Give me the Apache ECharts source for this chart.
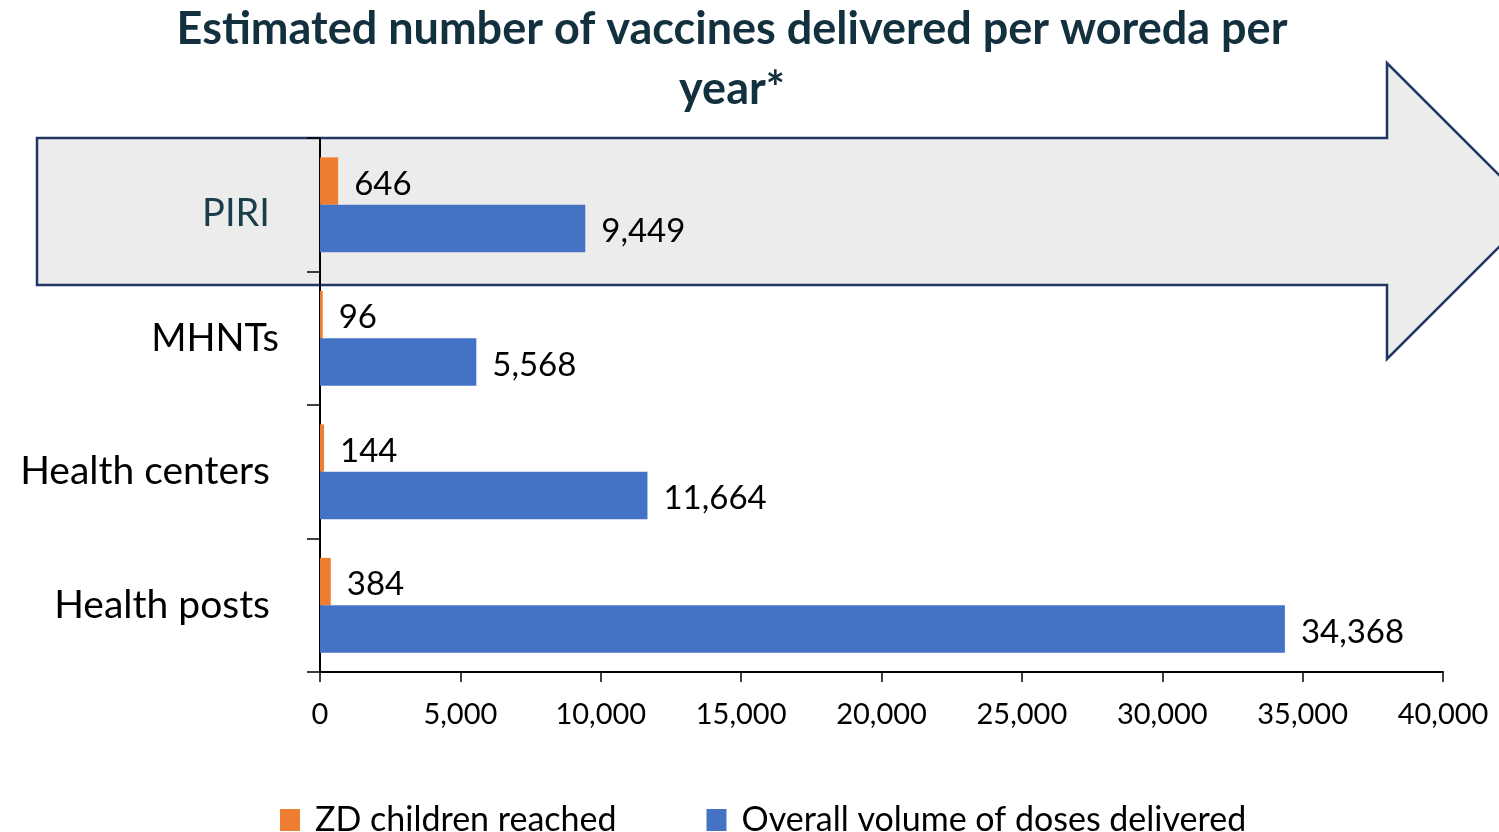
<!DOCTYPE html>
<html>
<head>
<meta charset="utf-8">
<script src="https://cdn.jsdelivr.net/npm/echarts@6/dist/echarts.min.js"></script>
<style>
  html, body { margin: 0; padding: 0; background: #fff; }
  #chart { width: 1499px; height: 832px; }
</style>
</head>
<body>
<div id="chart"></div>
<script>
// categories top to bottom
var categories = ['PIRI', 'MHNTs', 'Health centers', 'Health posts'];
var zdChildren = [646, 96, 144, 384];
var overallDoses = [9449, 5568, 11664, 34368];
var seriesNames = ['ZD children reached', 'Overall volume of doses delivered'];

var font = 'Lato';
var chart = echarts.init(document.getElementById('chart'));

function fmt(v) { return v.toLocaleString('en-US'); }

var valueLabel = {
    show: true,
    position: 'right',
    distance: 16,
    offset: [0, 3],
    fontFamily: font,
    fontSize: 33,
    color: '#000',
    formatter: function (p) { return fmt(p.value); }
};

var option = {
    backgroundColor: '#ffffff',
    title: {
        text: 'Estimated number of vaccines delivered per woreda per\nyear*',
        left: 727,
        textAlign: 'center',
        top: -6,
        textStyle: {
            fontFamily: font,
            fontWeight: 'bold',
            fontSize: 45,
            lineHeight: 60,
            color: '#12303d'
        }
    },
    // big arrow behind the PIRI row
    graphic: [
        {
            type: 'polygon',
            z: -10,
            shape: {
                points: [[37, 138], [1387, 138], [1387, 63], [1535, 211],
                         [1387, 359], [1387, 285], [37, 285]]
            },
            style: { fill: '#ececec', stroke: '#1f3761', lineWidth: 2.5 }
        }
    ],
    legend: {
        top: 798,
        left: 275,
        itemWidth: 20,
        itemHeight: 22,
        itemGap: 90,
        icon: 'rect',
        textStyle: { fontFamily: font, fontSize: 34, color: '#000', padding: [0, 0, 0, 10] },
        data: seriesNames
    },
    grid: {
        left: 320,
        right: 56,
        top: 138,
        bottom: 160
    },
    xAxis: {
        type: 'value',
        min: 0,
        max: 40000,
        interval: 5000,
        splitLine: { show: false },
        axisLine: { show: true, lineStyle: { color: '#000', width: 2 } },
        axisTick: { show: true, length: 10, lineStyle: { color: '#000', width: 1.5 } },
        axisLabel: {
            fontFamily: font,
            fontSize: 29,
            color: '#000',
            margin: 28,
            formatter: fmt
        }
    },
    yAxis: {
        type: 'category',
        inverse: true,
        data: categories,
        axisLine: { show: true, lineStyle: { color: '#000', width: 2 } },
        axisTick: { show: true, length: 13, lineStyle: { color: '#000', width: 1.5 } },
        axisLabel: {
            margin: 41,
            formatter: function (v) {
                if (v === 'PIRI') return '{p|' + v + '}';
                if (v === 'MHNTs') return '{m|' + v + '}';
                return '{n|' + v + '}';
            },
            rich: {
                p: { fontFamily: font, fontSize: 38, color: '#1a3d4a', padding: [18, 9, 0, 0] },
                m: { fontFamily: font, fontSize: 38, color: '#000', padding: [0, 0, 0, 0] },
                n: { fontFamily: font, fontSize: 39, color: '#000', padding: [0, 9, 0, 0] }
            }
        }
    },
    series: [
        {
            name: seriesNames[0],
            type: 'bar',
            data: zdChildren,
            barGap: '0%',
            barCategoryGap: '29%',
            itemStyle: { color: '#ed7d31' },
            label: valueLabel
        },
        {
            name: seriesNames[1],
            type: 'bar',
            data: overallDoses,
            barGap: '0%',
            barCategoryGap: '29%',
            itemStyle: { color: '#4472c4' },
            label: valueLabel
        }
    ]
};

chart.setOption(option);
</script>
</body>
</html>
